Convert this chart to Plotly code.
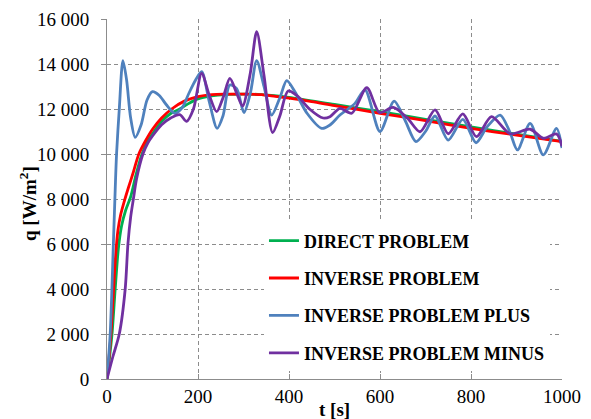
import plotly.graph_objects as go

# ---------------- data ----------------
t_direct = [0, 11, 18, 25, 32, 41, 52, 64, 77, 90, 100, 120, 140, 160, 180, 200, 230, 260, 300, 340, 400, 500, 600, 700, 800, 900, 1000]
q_direct = [0, 2000, 4000, 5800, 6800, 7500, 8100, 9100, 10000, 10600, 10900, 11450, 11800, 12000, 12250, 12450, 12580, 12640, 12660, 12640, 12520, 12200, 11880, 11540, 11200, 10880, 10560]

t_inverse = [0, 8, 14, 19, 24, 30, 38, 47, 58, 70, 85, 100, 120, 142, 170, 200, 230, 260, 300, 340, 370, 400, 450, 500, 600, 700, 800, 900, 1000]
q_inverse = [0, 1800, 3800, 5500, 6600, 7300, 7900, 8500, 9200, 10000, 10600, 11100, 11600, 12000, 12350, 12550, 12640, 12660, 12660, 12640, 12560, 12480, 12330, 12150, 11810, 11480, 11140, 10840, 10550]

t_plus = [0, 7, 14, 18, 21, 27, 35, 43, 52, 62, 75, 88, 100, 115, 130, 149, 165, 180, 195, 208, 225, 242, 255, 270, 285, 301, 315, 329, 345, 362, 380, 395, 413, 440, 472, 490, 512, 545, 567, 600, 631, 655, 679, 700, 721, 750, 782, 811, 835, 864, 885, 902, 930, 959, 988, 1000]
q_plus = [0, 2000, 6000, 8400, 10000, 12000, 14150, 13300, 11600, 10740, 11300, 12400, 12770, 12600, 12200, 11810, 12050, 12700, 13300, 13660, 12300, 11140, 11700, 13070, 12900, 11840, 12700, 14150, 13000, 11730, 12500, 13260, 12770, 11800, 11140, 11290, 11730, 12250, 12850, 11000, 12350, 11500, 10550, 11000, 11690, 10620, 11540, 10500, 11200, 11730, 11000, 10180, 11360, 9960, 11140, 10270]

t_minus = [0, 13, 27, 40, 46, 52, 58, 65, 79, 90, 100, 120, 140, 160, 175, 190, 208, 225, 241, 255, 270, 285, 298, 315, 329, 345, 364, 380, 398, 420, 445, 475, 490, 512, 538, 571, 599, 629, 660, 688, 721, 750, 782, 812, 845, 886, 930, 959, 988, 1000]
q_minus = [0, 1000, 2000, 4000, 6000, 7200, 8000, 8900, 10000, 10500, 10800, 11300, 11600, 11750, 11450, 12000, 13580, 12600, 11880, 12500, 13360, 12700, 12130, 13600, 15440, 13500, 10950, 11700, 12800, 12550, 12000, 11600, 11660, 12030, 11810, 12950, 11840, 12070, 11600, 10990, 11960, 10900, 11780, 10770, 11660, 10900, 11100, 10700, 10890, 10340]

series_names = ["DIRECT PROBLEM", "INVERSE PROBLEM", "INVERSE PROBLEM PLUS", "INVERSE PROBLEM MINUS"]
series_colors = ["#00B050", "#FF0000", "#4F81BD", "#7030A0"]

x_ticks = [0, 200, 400, 600, 800, 1000]
x_ticktext = ["0", "200", "400", "600", "800", "1000"]
y_ticks = [0, 2000, 4000, 6000, 8000, 10000, 12000, 14000, 16000]
y_ticktext = ["0", "2 000", "4 000", "6 000", "8 000", "10 000", "12 000", "14 000", "16 000"]

# ---------------- figure ----------------
FONT = "Liberation Serif"
fig = go.Figure()
data = [(t_direct, q_direct), (t_inverse, q_inverse), (t_plus, q_plus), (t_minus, q_minus)]
for i, ((tx, qy), name, col) in enumerate(zip(data, series_names, series_colors)):
    fig.add_trace(go.Scatter(
        x=tx, y=qy, mode="lines", name=name,
        line=dict(color=col, width=2.8, shape="spline", smoothing=0.8),
        legendgroup=f"g{i}",
    ))

fig.update_layout(
    template="none",
    width=591, height=419,
    margin=dict(l=107, r=29, t=19, b=40),
    paper_bgcolor="white", plot_bgcolor="white",
    font=dict(family=FONT, color="black", size=19),
    showlegend=True,
    legend=dict(
        x=0.345, xanchor="left", y=0.435, yanchor="top",
        bgcolor="white", borderwidth=0,
        font=dict(family=FONT, size=18, color="black", weight="bold"),
        tracegroupgap=11, traceorder="grouped",
    ),
    annotations=[
        dict(text="<b>t [s]</b>", xref="paper", yref="paper", x=0.5, y=0, yshift=-30,
             showarrow=False, xanchor="center", yanchor="middle",
             font=dict(family=FONT, size=19, color="black")),
        dict(text="<b>q [W/m<sup>2</sup>]</b>", xref="paper", yref="paper", x=0, y=0.5,
             xshift=-79, yshift=-5, textangle=-90, showarrow=False,
             xanchor="center", yanchor="middle",
             font=dict(family=FONT, size=19, color="black")),
    ],
)
for upd, rng, tv, tt, tk in [(fig.update_xaxes, [0, 1000], x_ticks, x_ticktext, "inside"),
                             (fig.update_yaxes, [0, 16000], y_ticks, y_ticktext, "outside")]:
    upd(range=rng, tickmode="array", tickvals=tv, ticktext=tt, ticks=tk,
        showgrid=True, gridcolor="#8c8c8c", griddash="4px,3px", gridwidth=1,
        zeroline=False, showline=True, linecolor="#8c8c8c", linewidth=1,
        tickcolor="#8c8c8c", ticklen=5, mirror=False,
        tickfont_family=FONT, tickfont_size=19, tickfont_color="black")
fig.update_yaxes(ticklabelstandoff=8)

fig.write_html("out.html")
